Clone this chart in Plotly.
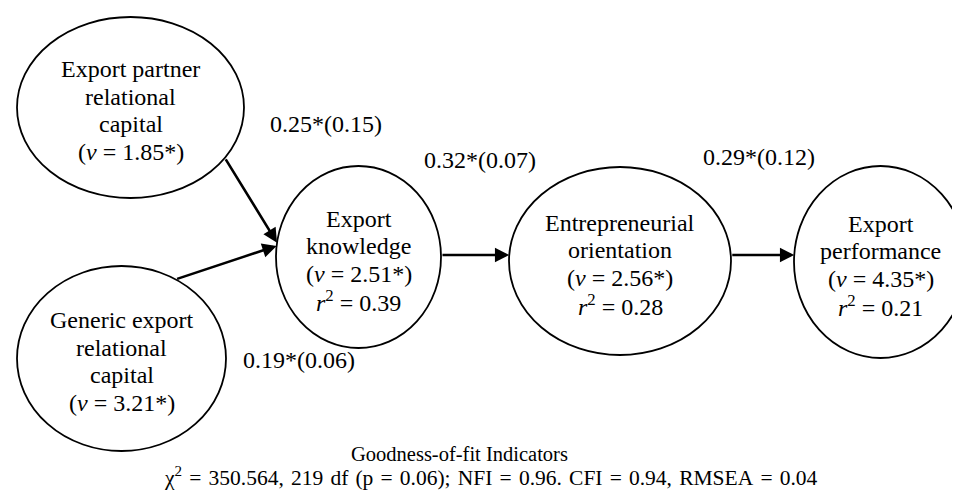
import math
import plotly.graph_objects as go

# ---------------- data ----------------
node_names = [
    "Export partner relational capital",
    "Generic export relational capital",
    "Export knowledge",
    "Entrepreneurial orientation",
    "Export performance",
]
node_lines = [
    ["Export partner", "relational", "capital"],
    ["Generic export", "relational", "capital"],
    ["Export", "knowledge"],
    ["Entrepreneurial", "orientation"],
    ["Export", "performance"],
]
node_v = [1.85, 3.21, 2.51, 2.56, 4.35]
node_r2 = [None, None, 0.39, 0.28, 0.21]

path_from = [0, 1, 2, 3]
path_to = [2, 2, 3, 4]
path_coef = [0.25, 0.19, 0.32, 0.29]
path_se = [0.15, 0.06, 0.07, 0.12]

fit_title = "Goodness-of-fit Indicators"
fit_chi2 = 350.564
fit_df = 219
fit_p = 0.06
fit_nfi = 0.96
fit_cfi = 0.94
fit_rmsea = 0.04

# ---------------- layout geometry ----------------
W, H = 960, 490
FONT = "Liberation Serif"
# ellipse boxes: (x0, y0, x1, y1) in pixel space (y downward)
node_box = [
    (9, 9, 236, 190),
    (9, 258, 218, 443),
    (268, 158, 433, 340),
    (501, 159, 723, 347),
    (786, 158, 959, 350),
]
# path anchors: angle on source ellipse, angle on target ellipse (deg, y down)
path_src_ang = [33.8, -58.8, None, None]
path_dst_ang = [189.0, 187.0, None, None]
arrow_level = 247  # horizontal arrows
label_pos = [(318, 116), (291, 352), (472, 152), (751, 149)]
line_gap = 27.5
text_shift = 3
SP = "\u2004"  # slightly wider word spacing of the fit line

def center(i):
    x0, y0, x1, y1 = node_box[i]
    return (x0 + x1) / 2, (y0 + y1) / 2, (x1 - x0) / 2, (y1 - y0) / 2

def on_ellipse(i, ang):
    cx, cy, rx, ry = center(i)
    t = math.radians(ang)
    return cx + rx * math.cos(t), cy + ry * math.sin(t)

def x_at_level(i, y, side):
    cx, cy, rx, ry = center(i)
    d = rx * math.sqrt(max(0.0, 1 - ((y - cy) / ry) ** 2))
    return cx + side * d

fig = go.Figure()
fig.add_trace(go.Scatter(x=[0, W], y=[0, H], mode="markers",
                         marker=dict(opacity=0), hoverinfo="skip", showlegend=False))

shapes = []
annotations = []

for i, name in enumerate(node_names):
    x0, y0, x1, y1 = node_box[i]
    shapes.append(dict(type="circle", xref="x", yref="y", x0=x0, y0=y0, x1=x1, y1=y1,
                       line=dict(color="black", width=1.8), fillcolor="white", layer="below"))
    lines = list(node_lines[i]) + ["(<i>v</i> = %.2f*)" % node_v[i]]
    if node_r2[i] is not None:
        lines.append("<i>r</i><sup>2</sup> = %.2f" % node_r2[i])
    cx, cy, rx, ry = center(i)
    n = len(lines)
    for k, ln in enumerate(lines):
        annotations.append(dict(x=cx, y=cy + text_shift + (k - (n - 1) / 2) * line_gap,
                                xref="x", yref="y", text=ln, showarrow=False,
                                font=dict(family=FONT, size=24, color="black"),
                                xanchor="center", yanchor="middle"))

for j in range(len(path_from)):
    s, d = path_from[j], path_to[j]
    if path_src_ang[j] is not None:
        sx, sy = on_ellipse(s, path_src_ang[j])
        tx, ty = on_ellipse(d, path_dst_ang[j])
    else:
        sx, sy = x_at_level(s, arrow_level, 1), arrow_level
        tx, ty = x_at_level(d, arrow_level, -1), arrow_level
    annotations.append(dict(x=tx, y=ty, ax=sx, ay=sy, xref="x", yref="y",
                            axref="x", ayref="y", text="", showarrow=True,
                            arrowhead=2, arrowsize=1.1, arrowwidth=2.6,
                            arrowcolor="black", standoff=0, startstandoff=0))
    lx, ly = label_pos[j]
    annotations.append(dict(x=lx, y=ly, xref="x", yref="y",
                            text="%.2f*(%.2f)" % (path_coef[j], path_se[j]),
                            showarrow=False,
                            font=dict(family=FONT, size=24, color="black"),
                            xanchor="center", yanchor="middle"))

fit_line = ("χ<sup>2</sup> = %.3f, %d df (p = %.2f); NFI = %.2f. CFI = %.2f, RMSEA = %.2f"
            % (fit_chi2, fit_df, fit_p, fit_nfi, fit_cfi, fit_rmsea)).replace(" ", SP)

annotations.append(dict(x=451, y=446, xref="x", yref="y",
                        text=fit_title, showarrow=False,
                        font=dict(family=FONT, size=20.5, color="black"),
                        xanchor="center", yanchor="middle"))
annotations.append(dict(x=483, y=468, xref="x", yref="y",
                        text=fit_line, showarrow=False,
                        font=dict(family=FONT, size=21.5, color="black"),
                        xanchor="center", yanchor="middle"))

fig.update_layout(
    width=W, height=H, margin=dict(l=0, r=0, t=0, b=0),
    paper_bgcolor="white", plot_bgcolor="white",
    font=dict(family=FONT, color="black"),
    xaxis=dict(range=[0, W], visible=False, fixedrange=True),
    yaxis=dict(range=[H, 0], visible=False, fixedrange=True),
    shapes=shapes, annotations=annotations, showlegend=False,
)
fig.write_html("out.html")
